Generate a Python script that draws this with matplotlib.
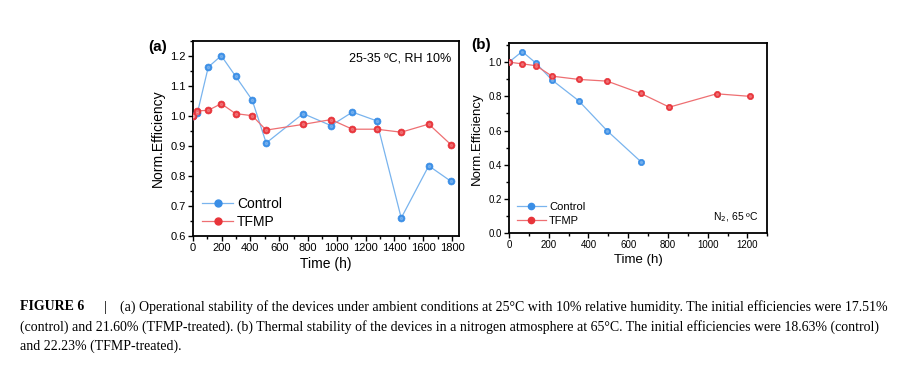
import matplotlib
matplotlib.use("Agg")
import matplotlib.pyplot as plt
from matplotlib.ticker import MultipleLocator

plt.rcParams['font.family'] = ['Liberation Sans', 'DejaVu Sans']

# panel (a): ambient, 25-35 C, RH 10%
time_a = [0, 32, 108, 198, 297, 413, 510, 766, 960, 1108, 1276, 1447, 1638, 1793]
control_a = [1.0, 1.008, 1.162, 1.200, 1.132, 1.052, 0.909, 1.007, 0.967, 1.012, 0.983, 0.659, 0.833, 0.781]
tfmp_a = [1.0, 1.016, 1.018, 1.040, 1.007, 1.0, 0.952, 0.971, 0.987, 0.955, 0.955, 0.945, 0.972, 0.903]

# panel (b): N2, 65 C
time_b_ctrl = [0, 66, 136, 217, 351, 494, 664]
control_b = [1.0, 1.062, 0.994, 0.895, 0.774, 0.599, 0.418]
time_b_tfmp = [0, 66, 136, 217, 351, 494, 664, 807, 1045, 1213]
tfmp_b = [1.0, 0.99, 0.979, 0.918, 0.899, 0.889, 0.817, 0.737, 0.815, 0.8]

caption = [
    "(a) Operational stability of the devices under ambient conditions at 25\u00b0C with 10% relative humidity. The initial efficiencies were 17.51%",
    "(control) and 21.60% (TFMP-treated). (b) Thermal stability of the devices in a nitrogen atmosphere at 65\u00b0C. The initial efficiencies were 18.63% (control)",
    "and 22.23% (TFMP-treated).",
]

blue = '#3a8ee6'
blue_line = '#79b4ee'
red = '#e8343a'
red_line = '#ee6f72'

W, H = 909, 371
fig = plt.figure(figsize=(W / 100, H / 100), dpi=100)


def px_axes(l, t, r, b):
    return fig.add_axes([l / W, (H - b) / H, (r - l) / W, (b - t) / H])


def style(ax, fs):
    for s in ax.spines.values():
        s.set_linewidth(1.3)
    ax.tick_params(which='both', direction='out', labelsize=fs, width=1.0, pad=1.5)
    ax.tick_params(which='major', length=3.5)
    ax.tick_params(which='minor', length=2)


def series(ax, x, y, c, lc, ms, label):
    ax.plot(x, y, '-', color=lc, lw=0.9, zorder=2)
    ax.plot(x, y, 'o', color=c, ms=ms, mec=c, mew=0.5, zorder=3)
    ax.plot(x, y, 'o', color='white', ms=ms * 0.35, alpha=0.2, zorder=4)  # small sphere shine
    ax.plot([], [], '-o', color=lc, mfc=c, mec=c, ms=ms, lw=0.9, label=label)


# ---- panel a
ax1 = px_axes(192.7, 40.7, 459.3, 235.7)
series(ax1, time_a, control_a, blue, blue_line, 5, 'Control')
series(ax1, time_a, tfmp_a, red, red_line, 5, 'TFMP')
ax1.set_xlim(0, 1850)
ax1.set_ylim(0.6, 1.25)
ax1.xaxis.set_major_locator(MultipleLocator(200))
ax1.xaxis.set_minor_locator(MultipleLocator(100))
ax1.yaxis.set_major_locator(MultipleLocator(0.1))
ax1.yaxis.set_minor_locator(MultipleLocator(0.05))
style(ax1, 8)
ax1.set_xlabel('Time (h)', fontsize=10, labelpad=3)
ax1.set_ylabel('Norm.Efficiency', fontsize=10, labelpad=4)
ax1.legend(loc='lower left', bbox_to_anchor=(0.0, -0.015), frameon=False, fontsize=10,
           handlelength=2.2, handletextpad=0.3, labelspacing=0.3, borderaxespad=0.3)
ax1.text(0.97, 0.94, '25-35 \u00baC, RH 10%', transform=ax1.transAxes, ha='right', va='top', fontsize=9)
fig.text(148 / W, 1 - 47 / H, '(a)', fontsize=11, fontweight='bold', va='center')

# ---- panel b
ax2 = px_axes(509, 43.3, 767.3, 233.3)
series(ax2, time_b_ctrl, control_b, blue, blue_line, 4.5, 'Control')
series(ax2, time_b_tfmp, tfmp_b, red, red_line, 4.5, 'TFMP')
ax2.set_xlim(0, 1300)
ax2.set_ylim(0, 1.11)
ax2.xaxis.set_major_locator(MultipleLocator(200))
ax2.xaxis.set_minor_locator(MultipleLocator(100))
ax2.yaxis.set_major_locator(MultipleLocator(0.2))
ax2.yaxis.set_minor_locator(MultipleLocator(0.1))
style(ax2, 7)
ax2.set_xlabel('Time (h)', fontsize=9.5, labelpad=3)
ax2.set_ylabel('Norm.Efficiency', fontsize=9.5, labelpad=4)
ax2.legend(loc='lower left', bbox_to_anchor=(0.0, 0.0), frameon=False, fontsize=8,
           handlelength=2.6, handletextpad=0.3, labelspacing=0.35, borderaxespad=0.3)
ax2.text(0.965, 0.05, 'N$_2$, 65 \u00baC', transform=ax2.transAxes, ha='right', va='bottom', fontsize=7.5)
fig.text(471 / W, 1 - 45 / H, '(b)', fontsize=11, fontweight='bold', va='center')

# ---- caption
cap_font = ['Liberation Serif', 'DejaVu Serif']
fs_cap = 10
fig.text(20 / W, 1 - 307 / H, 'FIGURE 6', fontsize=fs_cap, fontweight='bold', family=cap_font, va='center')
fig.text(104 / W, 1 - 307 / H, '|', fontsize=fs_cap, family=cap_font, va='center')
fig.text(120 / W, 1 - 307 / H, caption[0], fontsize=fs_cap, family=cap_font, va='center')
fig.text(20 / W, 1 - 327 / H, caption[1], fontsize=fs_cap, family=cap_font, va='center')
fig.text(20 / W, 1 - 346 / H, caption[2], fontsize=fs_cap, family=cap_font, va='center')

fig.savefig('out.png', dpi=100)
